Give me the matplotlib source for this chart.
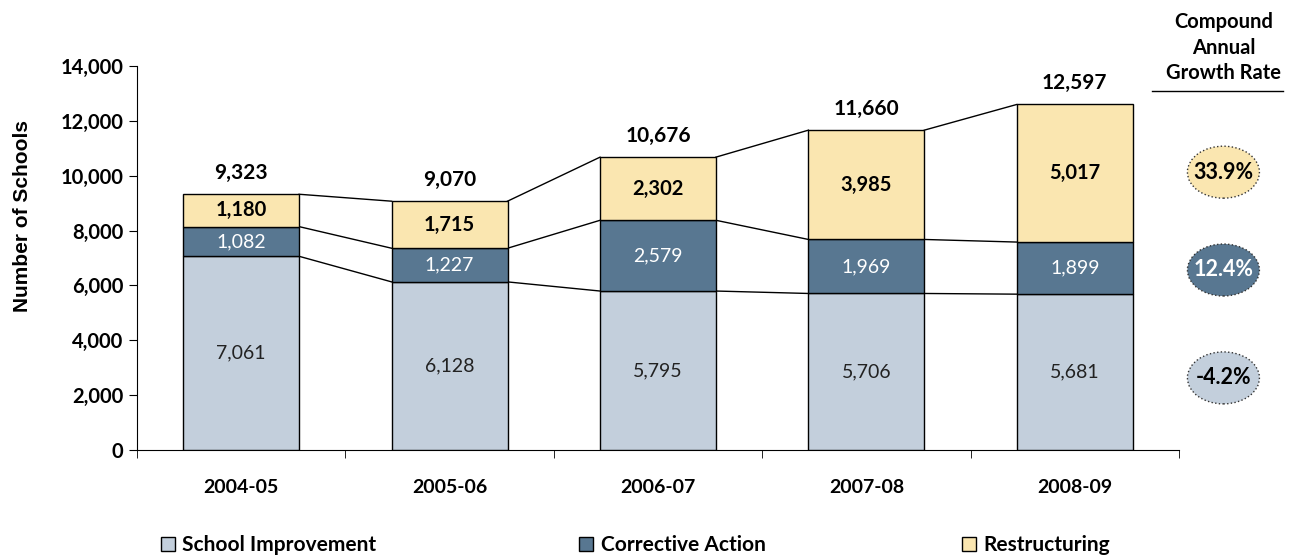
import matplotlib
matplotlib.use("Agg")
import matplotlib.pyplot as plt
from matplotlib.patches import Ellipse
from matplotlib.lines import Line2D
import numpy as np

# data
years = ["2004-05", "2005-06", "2006-07", "2007-08", "2008-09"]
school_improvement = [7061, 6128, 5795, 5706, 5681]
corrective_action = [1082, 1227, 2579, 1969, 1899]
restructuring = [1180, 1715, 2302, 3985, 5017]
growth_rates = ["33.9%", "12.4%", "-4.2%"]
series_names = ["School Improvement", "Corrective Action", "Restructuring"]

c_si = "#C3CFDC"
c_ca = "#587791"
c_re = "#FAE6B0"

body = "Lato"

fig = plt.figure(figsize=(12.96, 5.59), dpi=100)
ax = fig.add_axes([0.1057, 0.195, 0.804, 0.687])

x = np.arange(len(years))
w = 0.556
si = np.array(school_improvement)
ca = np.array(corrective_action)
re = np.array(restructuring)

ax.bar(x, si, w, color=c_si, edgecolor="black", linewidth=1, zorder=3)
ax.bar(x, ca, w, bottom=si, color=c_ca, edgecolor="black", linewidth=1, zorder=3)
ax.bar(x, re, w, bottom=si + ca, color=c_re, edgecolor="black", linewidth=1, zorder=3)

# connector lines between bars
for level in [si, si + ca, si + ca + re]:
    for i in range(len(x) - 1):
        ax.plot([x[i] + w / 2, x[i + 1] - w / 2], [level[i], level[i + 1]],
                color="black", lw=1, zorder=2)

# segment labels
for i in range(len(x)):
    ax.text(x[i], si[i] / 2, f"{si[i]:,}", ha="center", va="center",
            fontsize=14, family=body, color="#222222", zorder=4)
    ax.text(x[i], si[i] + ca[i] / 2, f"{ca[i]:,}", ha="center", va="center",
            fontsize=14, family=body, color="white", zorder=4)
    ax.text(x[i], si[i] + ca[i] + re[i] / 2, f"{re[i]:,}", ha="center", va="center",
            fontsize=14.5, family=body, fontweight="bold", color="black", zorder=4)
    tot = si[i] + ca[i] + re[i]
    ax.annotate(f"{tot:,}", (x[i], tot), xytext=(0, 8), textcoords="offset points",
                ha="center", va="bottom", fontsize=15, family=body,
                fontweight="bold")

ax.set_xlim(-0.5, len(x) - 0.5)
ax.set_ylim(0, 14000)
ax.set_yticks(np.arange(0, 14001, 2000))
ax.set_yticklabels([f"{v:,}" for v in range(0, 14001, 2000)],
                   fontsize=14.5, family=body, fontweight="bold")
ax.set_xticks(x)
ax.set_xticklabels(years, fontsize=14, family=body, fontweight="bold")
ax.set_xticks(np.arange(-0.5, len(x), 1), minor=True)
ax.tick_params(axis="x", which="major", length=0, pad=21)
ax.tick_params(axis="x", which="minor", length=6, direction="out")
ax.tick_params(axis="y", length=6, direction="out", pad=4)
ax.spines["top"].set_visible(False)
ax.spines["right"].set_visible(False)
fig.text(0.017, 0.614, "Number of Schools", rotation=90, ha="center", va="center",
         fontsize=15, family="Liberation Sans", fontweight="bold")

# legend
handles = [Line2D([], [], marker="s", ls="none", markersize=10,
                  markerfacecolor=c, markeredgecolor="black", markeredgewidth=1)
           for c in [c_si, c_ca, c_re]]
leg_x = [0.115, 0.438, 0.733]
for hx, h, name in zip(leg_x, handles, series_names):
    fig.legend([h], [name], loc="center left", bbox_to_anchor=(hx, 0.025),
               frameon=False, prop={"family": body, "weight": "bold", "size": 15},
               handletextpad=0.2, borderaxespad=0, handlelength=1)

# CAGR panel
fig.text(0.944, 0.915, "Compound\nAnnual\nGrowth Rate", ha="center", va="center",
         fontsize=14.5, family=body, fontweight="bold", linespacing=1.35)
fig.add_artist(Line2D([0.889, 0.99], [0.837, 0.837], color="black", lw=1))
ell_y = [0.692, 0.517, 0.324]
ell_c = [c_re, c_ca, c_si]
txt_c = ["black", "white", "black"]
fw = 72 / 1296
fh = 52 / 559
for yy, fc, tc, g in zip(ell_y, ell_c, txt_c, growth_rates):
    fig.add_artist(Ellipse((0.944, yy), fw, fh, transform=fig.transFigure,
                           facecolor=fc, edgecolor="#333333", lw=1, ls=":"))
    fig.text(0.944, yy, g, ha="center", va="center", fontsize=15.5, family=body,
             fontweight="bold", color=tc)

fig.savefig("out.png", dpi=100)
